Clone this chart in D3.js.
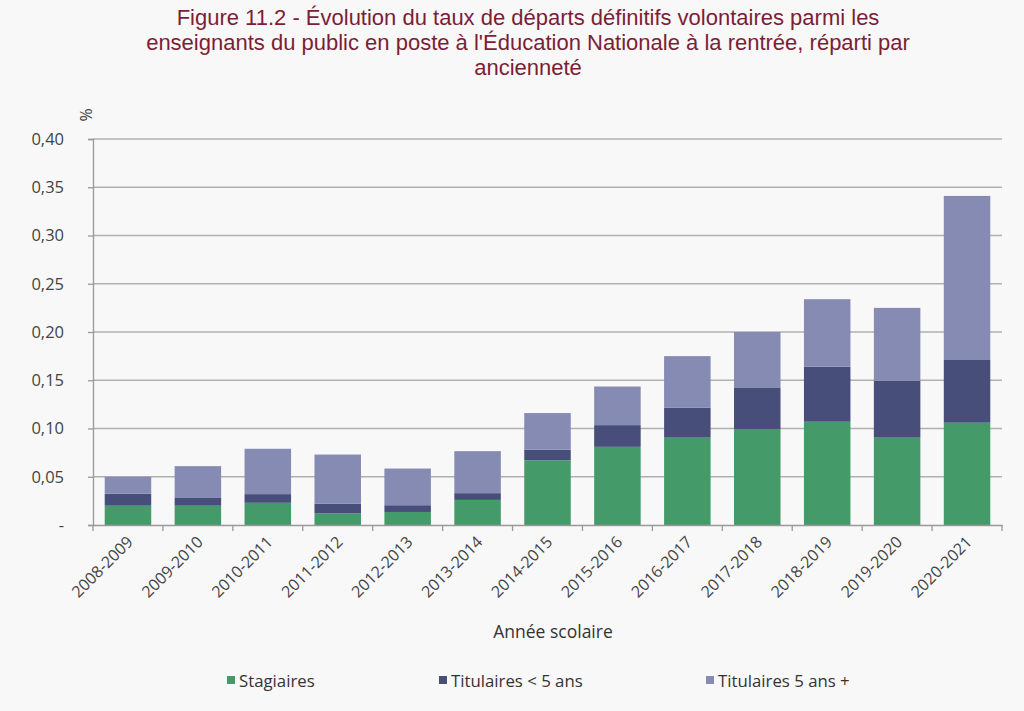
<!DOCTYPE html>
<html><head><meta charset="utf-8">
<script src="https://cdn.jsdelivr.net/npm/d3@7"></script>
<style>
html,body{margin:0;padding:0;background:#f8f8f8;}
#wrap{position:relative;width:1024px;height:711px;}
#title{position:absolute;left:28px;top:5px;width:1000px;text-align:center;font-family:"Liberation Sans",Arial,sans-serif;font-size:22px;line-height:25px;color:#7b1e36;}
svg{display:block;font-family:"Open Sans",sans-serif;}
</style></head>
<body><div id="wrap"><div id="title"></div><svg id="c" width="1024" height="711"></svg></div>
<script>
const categories = ["2008-2009","2009-2010","2010-2011","2011-2012","2012-2013","2013-2014","2014-2015","2015-2016","2016-2017","2017-2018","2018-2019","2019-2020","2020-2021"];
const stagiaires = [0.020,0.020,0.023,0.012,0.0135,0.026,0.067,0.081,0.0905,0.0995,0.107,0.0905,0.106];
const titulairesMoins5 = [0.0125,0.008,0.009,0.010,0.007,0.007,0.011,0.0225,0.031,0.0425,0.057,0.059,0.065];
const titulaires5Plus = [0.0175,0.033,0.047,0.051,0.038,0.0435,0.038,0.040,0.0535,0.058,0.070,0.0755,0.170];
const seriesNames = ["Stagiaires","Titulaires < 5 ans","Titulaires 5 ans +"];
const seriesColors = ["#449a68","#474e7a","#858bb3"];
const yTicks = [0,0.05,0.10,0.15,0.20,0.25,0.30,0.35,0.40];
const titleLines = ["Figure 11.2 - Évolution du taux de départs définitifs volontaires parmi les","enseignants du public en poste à l'Éducation Nationale à la rentrée, réparti par","ancienneté"];

// title as one wrapped text block
const tdiv = d3.select("#title");
titleLines.forEach((t,i)=>{ if(i>0) tdiv.append("br"); tdiv.append("span").text(t); });

const svg = d3.select("#c");
const m = {left:93,right:1002,top:139,bottom:525};
const rows = categories.map((c,i)=>({cat:c, s0:stagiaires[i], s1:titulairesMoins5[i], s2:titulaires5Plus[i]}));
const stack = d3.stack().keys(["s0","s1","s2"])(rows);

const x = d3.scaleBand().domain(categories).range([m.left,m.right]).paddingInner(0.335).paddingOuter(0.1675);
const y = d3.scaleLinear().domain([0,0.40]).range([m.bottom,m.top]);

// gridlines
svg.append("g").selectAll("line").data(yTicks.filter(d=>d>0)).join("line")
  .attr("x1",m.left).attr("x2",m.right).attr("y1",d=>y(d)).attr("y2",d=>y(d))
  .attr("stroke","#b0b0b0").attr("stroke-width",1.3);

// y axis
const fmt = d=> d===0 ? "-" : d3.format(".2f")(d).replace(".",",");
const ya = svg.append("g").attr("transform",`translate(${m.left},0)`)
  .call(d3.axisLeft(y).tickValues(yTicks).tickFormat(fmt).tickSize(5).tickPadding(24));
ya.select(".domain").attr("stroke","#999").attr("stroke-width",1.3);
ya.selectAll(".tick line").attr("stroke","#999").attr("stroke-width",1.3);
ya.selectAll("text").attr("font-size",16.5).attr("fill","#444").attr("font-family","Open Sans, sans-serif");

// % label
svg.append("text").attr("transform","translate(92,115) rotate(-90)")
  .attr("text-anchor","middle").attr("font-size",16).attr("fill","#444").text("%");

// bars
svg.append("g").selectAll("g").data(stack).join("g").attr("fill",(d,i)=>seriesColors[i])
  .selectAll("rect").data(d=>d).join("rect")
  .attr("x",d=>x(d.data.cat)).attr("width",x.bandwidth())
  .attr("y",d=>y(d[1])).attr("height",d=>y(d[0])-y(d[1]));

// x axis
const xa = svg.append("g").attr("transform",`translate(0,${m.bottom})`)
  .call(d3.axisBottom(x).tickSize(0).tickPadding(0));
xa.select(".domain").attr("stroke","#999").attr("stroke-width",1.3);
xa.selectAll(".tick text").attr("font-size",16).attr("fill","#444")
  .attr("font-family","Open Sans, sans-serif")
  .attr("text-anchor","end").attr("dy",0)
  .attr("transform","translate(6,18) rotate(-45)");
// band boundary ticks
const bounds = categories.map(c=>x(c)-x.step()*x.paddingInner()/2).concat([m.right]);
svg.append("g").selectAll("line").data(bounds).join("line")
  .attr("x1",d=>d).attr("x2",d=>d).attr("y1",m.bottom).attr("y2",m.bottom+6)
  .attr("stroke","#999").attr("stroke-width",1.3);

// axis title
svg.append("text").attr("x",553).attr("y",638).attr("text-anchor","middle")
  .attr("font-size",17.5).attr("fill","#333").text("Année scolaire");

// legend
const legX = [227,439,706];
const lg = svg.append("g").selectAll("g").data(seriesNames).join("g")
  .attr("transform",(d,i)=>`translate(${legX[i]},682)`);
lg.append("rect").attr("x",0).attr("y",-6).attr("width",8).attr("height",8).attr("fill",(d,i)=>seriesColors[i]);
lg.append("text").attr("x",12).attr("y",5).attr("font-size",16.8).attr("fill","#333").text(d=>d);
</script></body></html>
